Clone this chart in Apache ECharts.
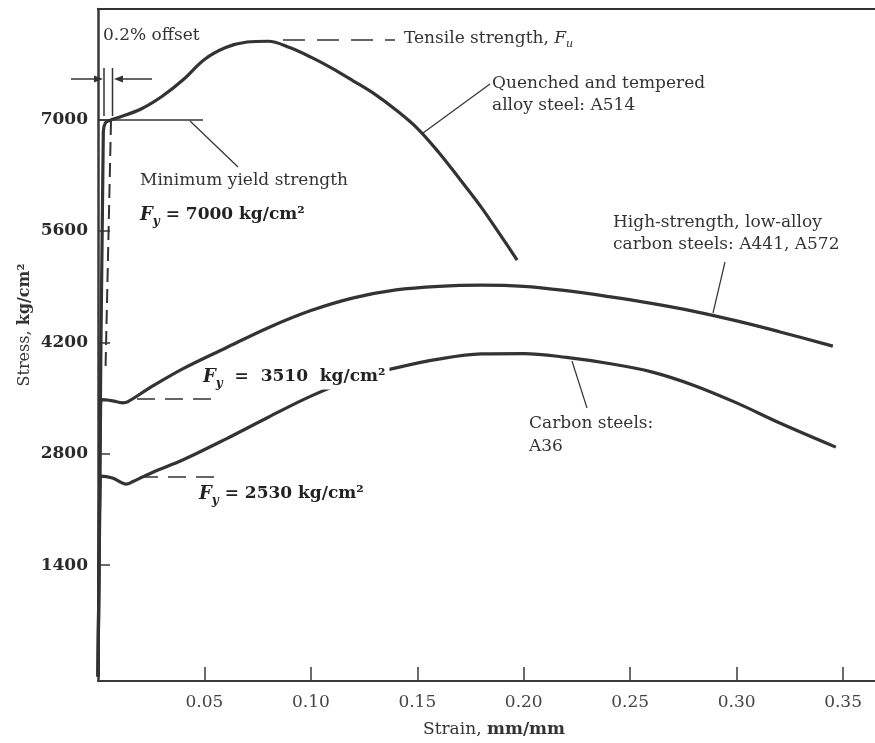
<!DOCTYPE html>
<html><head><meta charset="utf-8">
<script src="https://cdn.jsdelivr.net/npm/echarts@6/dist/echarts.min.js"></script>
<style>html,body{margin:0;padding:0;background:#fff}#c{width:875px;height:743px}</style>
</head><body><div id="c"></div>
<script>
// ---- data ----
const strainTicks = [0.05, 0.10, 0.15, 0.20, 0.25, 0.30, 0.35];
const stressTicks = [1400, 2800, 4200, 5600, 7000];

const a514Strain = [0, 0.0025, 0.0035, 0.0055, 0.010, 0.020, 0.030, 0.040, 0.050, 0.060, 0.070, 0.080, 0.090, 0.100, 0.110, 0.120, 0.130, 0.140, 0.150, 0.160, 0.170, 0.180, 0.190, 0.1969];
const a514Stress = [0, 6850, 6960, 6990, 7030, 7130, 7290, 7500, 7755, 7905, 7975, 7985, 7905, 7785, 7645, 7485, 7320, 7120, 6890, 6590, 6250, 5900, 5510, 5235];

const hslaStrain = [0, 0.0012, 0.0017, 0.0068, 0.0115, 0.0139, 0.025, 0.040, 0.060, 0.080, 0.100, 0.120, 0.140, 0.160, 0.180, 0.200, 0.220, 0.240, 0.260, 0.280, 0.300, 0.320, 0.3452];
const hslaStress = [0, 3350, 3480, 3466, 3441, 3453, 3640, 3870, 4130, 4385, 4600, 4760, 4860, 4905, 4920, 4905, 4850, 4775, 4690, 4590, 4470, 4335, 4153];

const a36Strain = [0, 0.0010, 0.0015, 0.0068, 0.0133, 0.0162, 0.025, 0.040, 0.060, 0.080, 0.100, 0.120, 0.140, 0.160, 0.180, 0.200, 0.220, 0.240, 0.260, 0.280, 0.300, 0.320, 0.3466];
const a36Stress = [0, 2420, 2520, 2495, 2419, 2448, 2560, 2725, 2985, 3260, 3525, 3740, 3880, 3990, 4055, 4060, 4012, 3935, 3830, 3660, 3440, 3190, 2884];

const zip = (xs, ys) => xs.map((x, i) => [x, ys[i]]);

const SERIF = '"DejaVu Serif","Liberation Serif",serif';
const INK = '#333';
const FS = 17;

const chart = echarts.init(document.getElementById('c'), null, {renderer: 'canvas'});

const curveStyle = {color: INK, width: 3.2};

chart.setOption({
  animation: false,
  backgroundColor: '#fff',
  grid: {left: 98, right: 0, top: 9, bottom: 62, containLabel: false},
  xAxis: {
    type: 'value', min: 0, max: 0.365,
    axisLine: {show: true, onZero: false, lineStyle: {color: '#3a3a3a', width: 2}},
    axisTick: {show: true, inside: true, length: 14, customValues: strainTicks, lineStyle: {color: '#3a3a3a', width: 1.5}},
    axisLabel: {customValues: strainTicks, formatter: v => v.toFixed(2), fontFamily: SERIF, fontSize: FS, color: '#444', margin: 13},
    splitLine: {show: false}
  },
  yAxis: {
    type: 'value', min: -55, max: 8390,
    axisLine: {show: true, onZero: false, lineStyle: {color: '#3a3a3a', width: 2.5}},
    axisTick: {show: true, inside: true, length: 12, customValues: stressTicks, lineStyle: {color: '#3a3a3a', width: 1.5}},
    axisLabel: {customValues: stressTicks, formatter: v => String(v), fontFamily: SERIF, fontSize: FS, fontWeight: 'bold', color: '#2a2a2a', margin: 10},
    splitLine: {show: false}
  },
  series: [
    {type: 'line', name: 'A514', data: zip(a514Strain, a514Stress), smooth: 0.35, showSymbol: false, lineStyle: curveStyle, z: 3},
    {type: 'line', name: 'A441/A572', data: zip(hslaStrain, hslaStress), smooth: 0.35, showSymbol: false, lineStyle: curveStyle, z: 3},
    {type: 'line', name: 'A36', data: zip(a36Strain, a36Stress), smooth: 0.35, showSymbol: false, lineStyle: curveStyle, z: 3}
  ]
});

// ---- annotations ----
function line(x1, y1, x2, y2, w, dash) {
  return {type: 'line', shape: {x1, y1, x2, y2}, style: {stroke: INK, lineWidth: w || 1.5, lineDash: dash || null}, z: 5};
}
function text(x, y, t, opt) {
  opt = opt || {};
  return {type: 'text', x, y, z: 10, style: Object.assign({text: t, fontFamily: SERIF, fontSize: FS, fill: '#333', textVerticalAlign: 'middle', textAlign: 'left'}, opt)};
}
const richFy = {
  F: {fontFamily: SERIF, fontSize: 18, fontStyle: 'italic', fontWeight: 'bold', fill: '#222'},
  s: {fontFamily: SERIF, fontSize: 12, fontStyle: 'italic', fontWeight: 'bold', fill: '#222', padding: [13, 0, 0, 0]},
  b: {fontFamily: SERIF, fontSize: 17, fontWeight: 'bold', fill: '#222'}
};
function fyText(x, y, str, bg) {
  return {type: 'text', x, y, z: 10, style: {text: '{F|F}{s|y}{b|' + str + '}', rich: richFy, textVerticalAlign: 'middle', backgroundColor: bg || null, padding: bg ? [0, 4, 0, 4] : 0}};
}
function arrow(x, y, dir) {
  return {type: 'polygon', shape: {points: [[x, y], [x - dir * 9, y - 3.5], [x - dir * 9, y + 3.5]]}, style: {fill: INK}, z: 5};
}

const g = [];
g.push(line(97, 9, 875, 9, 2));
// 0.2% offset
g.push(text(103, 36, '0.2% offset'));
g.push(line(104, 68, 104, 116, 1.5));
g.push(line(112.5, 68, 112.5, 116, 1.5));
g.push(line(71, 79, 100, 79, 1.5));
g.push(arrow(103, 79, 1));
g.push(line(152, 79, 117, 79, 1.5));
g.push(arrow(114, 79, -1));
g.push(line(111, 121, 105.5, 370, 2, [14, 7]));
// minimum yield strength
g.push(line(98, 120, 203, 120, 1.5));
g.push(line(190, 121, 238, 167, 1.2));
g.push(text(140, 181, 'Minimum yield strength'));
g.push(fyText(140, 215, ' = 7000 kg/cm²'));
// tensile strength
g.push(line(283, 40, 395, 40, 1.5, [22, 12]));
g.push({type: 'text', x: 404, y: 39, z: 10, style: {text: 'Tensile strength, {u|F}{ss|u}', fontFamily: SERIF, fontSize: FS, fill: '#333', textVerticalAlign: 'middle',
  rich: {u: {fontFamily: SERIF, fontSize: FS, fontStyle: 'italic', fill: '#333'}, ss: {fontFamily: SERIF, fontSize: 11, fontStyle: 'italic', fill: '#333', padding: [10, 0, 0, 0]}}}});
// quenched
g.push(line(423, 133, 490, 84, 1.2));
g.push(text(492, 84, 'Quenched and tempered'));
g.push(text(492, 106, 'alloy steel: A514'));
// HSLA
g.push(line(713, 313, 725, 262, 1.2));
g.push(text(613, 223, 'High-strength, low-alloy'));
g.push(text(613, 245, 'carbon steels: A441, A572'));
// A36
g.push(line(572, 361, 587, 408, 1.2));
g.push(text(529, 424, 'Carbon steels:'));
g.push(text(529, 447, 'A36'));
// Fy dashed lines
g.push(line(137, 399, 218, 399, 1.5, [18, 10]));
g.push(line(140, 477, 218, 477, 1.5, [18, 10]));
g.push(fyText(199, 377, '  =  3510  kg/cm²', '#fff'));
g.push(fyText(199, 494, ' = 2530 kg/cm²'));
// axis titles
g.push({type: 'text', x: 423, y: 730, z: 10, style: {text: 'Strain, {b|mm/mm}', fontFamily: SERIF, fontSize: FS, fill: '#333', textVerticalAlign: 'middle',
  rich: {b: {fontFamily: SERIF, fontSize: FS, fontWeight: 'bold', fill: '#333'}}}});
g.push({type: 'text', x: 25, y: 325, rotation: Math.PI / 2, z: 10, style: {text: 'Stress, {b|kg/cm²}', fontFamily: SERIF, fontSize: 16, fill: '#333', textAlign: 'center', textVerticalAlign: 'middle',
  rich: {b: {fontFamily: SERIF, fontSize: 16, fontWeight: 'bold', fill: '#333'}}}});

chart.setOption({graphic: {elements: g}});
</script>
</body></html>
